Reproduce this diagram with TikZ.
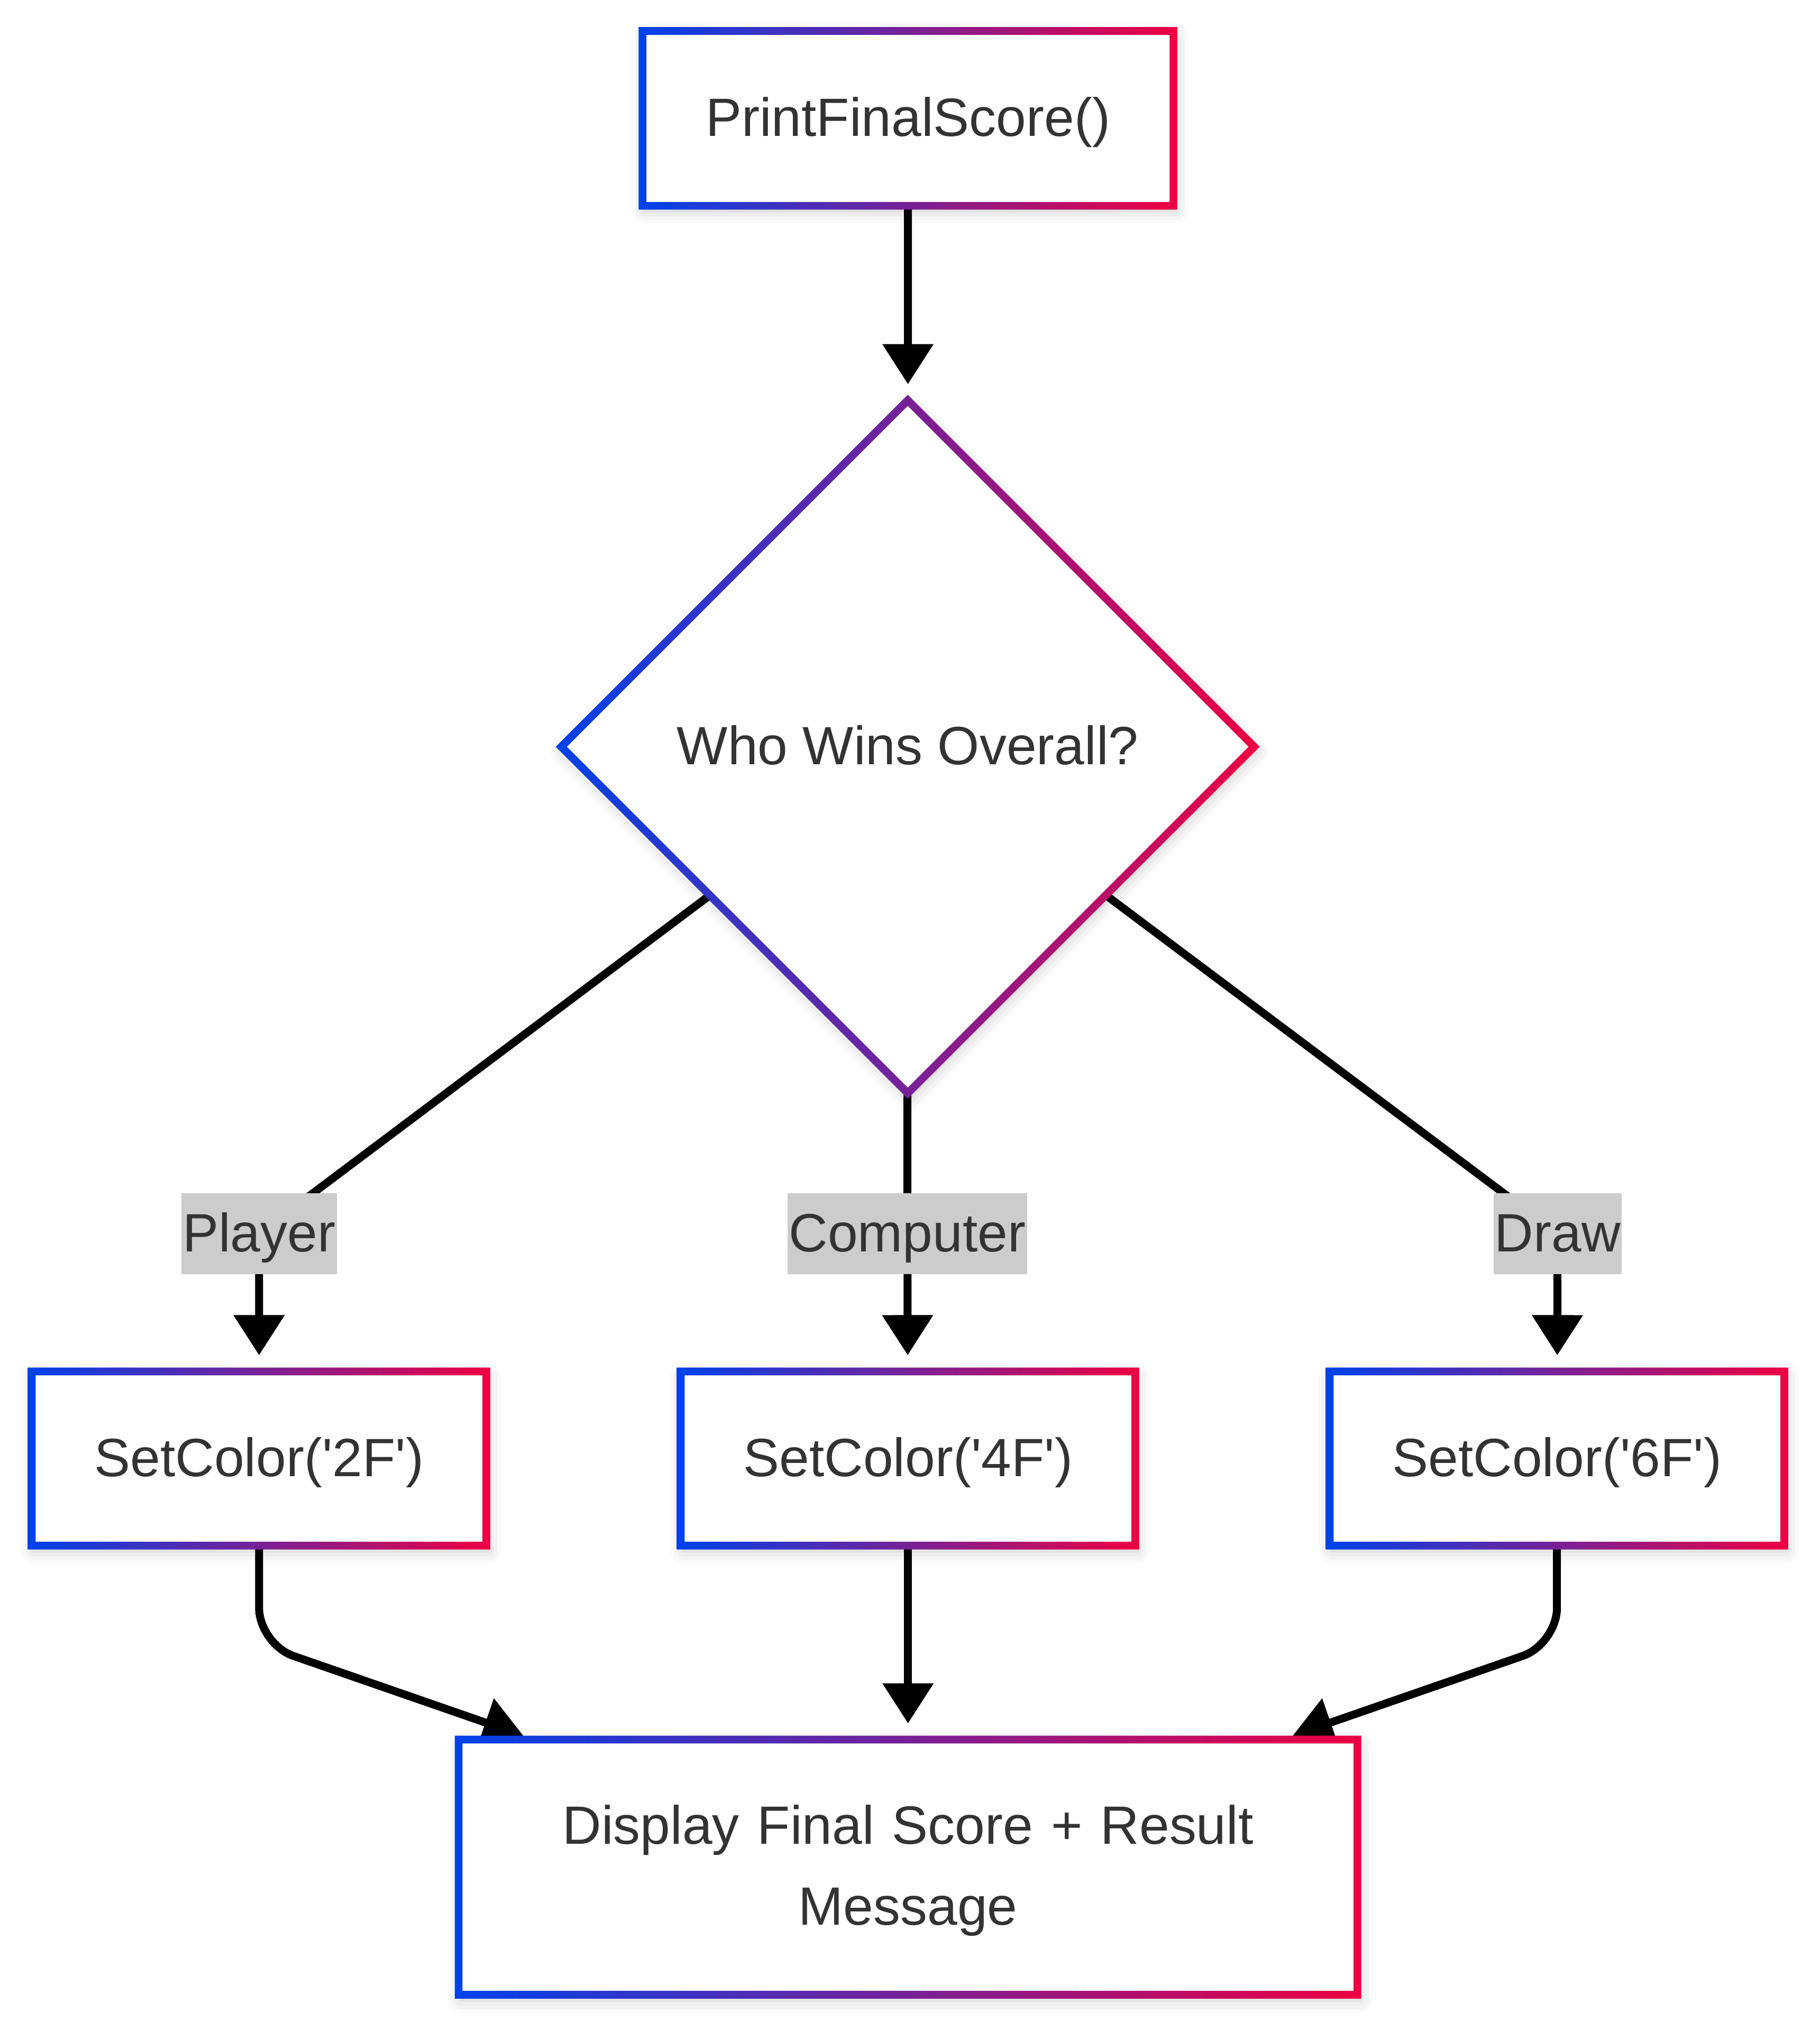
\documentclass[tikz,border=0pt]{standalone}
\usepackage{fontspec}
\setmainfont{Liberation Sans}
\usetikzlibrary{shapes.geometric,arrows.meta,backgrounds,shadows.blur}

\definecolor{frameblue}{RGB}{0,66,235}
\definecolor{framered}{RGB}{238,0,66}
\definecolor{labelgray}{RGB}{204,204,204}
\definecolor{inkgray}{RGB}{51,51,51}

\newcommand{\gradbox}[1]{%
  \shade[even odd rule,left color=frameblue,right color=framered]
    ([shift={(-3,-3)}]#1.north west) rectangle ([shift={(3,3)}]#1.south east)
    ([shift={(3,3)}]#1.north west) rectangle ([shift={(-3,-3)}]#1.south east);}
\newcommand{\graddiamond}[1]{%
  \shade[even odd rule,left color=frameblue,right color=framered]
    ([shift={(0,-4.3)}]#1.north) -- ([shift={(4.3,0)}]#1.east) -- ([shift={(0,4.3)}]#1.south) -- ([shift={(-4.3,0)}]#1.west) -- cycle
    ([shift={(0,4.3)}]#1.north) -- ([shift={(-4.3,0)}]#1.east) -- ([shift={(0,-4.3)}]#1.south) -- ([shift={(4.3,0)}]#1.west) -- cycle;}
\newcommand{\qs}{\textquotesingle}

\begin{document}
\begin{tikzpicture}[x=0.02cm,y=-0.02cm,
    every node/.style={font=\fontsize{23.7}{35.6}\selectfont, text=inkgray, outer sep=0pt, inner sep=0pt,
      text height=0.9cm, text depth=0.35cm},
    soft/.style={blur shadow={shadow xshift=0.03cm, shadow yshift=-0.08cm, shadow blur radius=0.2cm, shadow opacity=22}},
    box/.style={rectangle, fill=white, soft},
    choice/.style={diamond, aspect=1, fill=white, soft, minimum width=10.7cm, minimum height=10.7cm},
    answer/.style={fill=labelgray, inner xsep=0.02cm},
    flow/.style={draw=black, line width=0.1225cm, -{Triangle[width=0.76cm,length=0.62cm]}}]

  \useasboundingbox (0,0) rectangle (1405,1568);

  \node[box, minimum width=8.2cm, minimum height=2.7cm] (score) at (701,91.4) {PrintFinalScore()};
  \node[choice] (wins) at (700.8,576.5) {Who Wins Overall?};

  \node[answer] (lplayer) at (200,952.4) {Player};
  \node[answer] (lcomp) at (700.5,952.4) {Computer};
  \node[answer] (ldraw) at (1202.5,952.4) {Draw};

  \begin{scope}[every node/.append style={box, minimum width=7.02cm, minimum height=2.69cm}]
    \node (setp) at (200,1126) {SetColor(\qs 2F\qs)};
    \node (setc) at (701,1126) {SetColor(\qs 4F\qs)};
    \node (setd) at (1202,1126) {SetColor(\qs 6F\qs)};
  \end{scope}

  \node[box, minimum width=13.88cm, minimum height=3.94cm, text width=13.5cm, align=center,
    text depth=1.61cm] (final) at (701,1441.5) {Display Final Score + Result\\Message};

  \gradbox{score}
  \graddiamond{wins}
  \gradbox{setp}
  \gradbox{setc}
  \gradbox{setd}
  \gradbox{final}

  \begin{scope}[on background layer]
    \draw[flow, shorten >=0.25cm] (score) -- (wins);
    \draw[flow, shorten >=0.25cm] (wins) -- (lplayer.center) -- (setp);
    \draw[flow, shorten >=0.25cm] (wins) -- (lcomp.center) -- (setc);
    \draw[flow, shorten >=0.25cm] (wins) -- (ldraw.center) -- (setd);
    \draw[flow, rounded corners=0.56cm] (setp.south) -- ++(0,76) -- ([shift={(50,-3)}]final.north west);
    \draw[flow, shorten >=0.25cm] (setc) -- (final);
    \draw[flow, rounded corners=0.56cm] (setd.south) -- ++(0,76) -- ([shift={(-50,-3)}]final.north east);
  \end{scope}

\end{tikzpicture}
\end{document}
